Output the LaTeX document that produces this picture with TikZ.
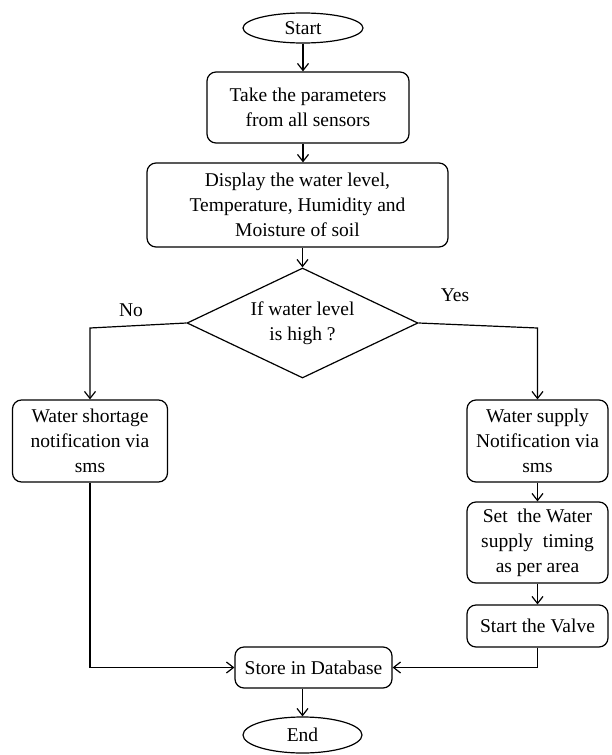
\documentclass[tikz,border=0pt]{standalone}
\usepackage{fontspec}
\setmainfont{Liberation Serif}
\newfontfamily\diagfont{Liberation Serif}
\usetikzlibrary{shapes.geometric,arrows.meta}
\begin{document}
\begin{tikzpicture}[x=1pt,y=-1pt,
  every node/.style={font=\diagfont\fontsize{19.5}{25}\selectfont},
  box/.style={draw, line width=1.2pt, rounded corners=9pt, align=center, inner sep=0pt},
  term/.style={draw, line width=1.2pt, ellipse, inner sep=0pt},
  dec/.style={draw, line width=1.2pt, diamond, aspect=2.1, align=center, inner sep=0pt},
  arr/.style={line width=1.2pt, -{Straight Barb[length=7pt,width=11pt]}},
  lbl/.style={inner sep=0pt}]
\useasboundingbox (0,0) rectangle (612,755);
\node[term, minimum width=120pt, minimum height=30pt] (start) at (303,28) {Start};
\node[box, minimum width=202pt, minimum height=71pt] (take) at (308,107.5) {Take the parameters\\from all sensors};
\node[box, minimum width=301pt, minimum height=84pt] (disp) at (297.5,205) {Display the water level,\\Temperature, Humidity and\\Moisture of soil};
\node[dec, minimum width=231pt, minimum height=110pt] (dec) at (302.5,323) {If water level\\is high ?};
\node[box, minimum width=155pt, minimum height=82pt] (left) at (90,441) {Water shortage\\notification via\\sms};
\node[box, minimum width=141pt, minimum height=82pt] (r1) at (537.5,441) {Water supply\\Notification via\\sms};
\node[box, minimum width=141pt, minimum height=81pt] (r2) at (537.5,542.5) {Set~ the Water\\supply~ timing\\as per area};
\node[box, minimum width=141pt, minimum height=42pt] (r3) at (537.5,626) {Start the Valve};
\node[box, minimum width=157pt, minimum height=41pt] (store) at (313.5,667.5) {Store in Database};
\node[term, minimum width=119pt, minimum height=36pt] (end) at (302.5,735) {End};
\node[lbl] (no) at (131,310) {No};
\node[lbl] (yes) at (455,295) {Yes};
\coordinate (nc) at (90,328);
\coordinate (yc) at (537.5,328);
\draw[arr] (start.south) -- (start.south |- take.north);
\draw[arr] (take.south -| start.south) -- (start.south |- disp.north);
\draw[arr] (disp.south -| dec.north) -- (dec.north);
\draw[arr] (dec.west) -- (nc) -- (left.north);
\draw[arr] (dec.east) -- (yc) -- (r1.north);
\draw[arr] (r1.south) -- (r2.north);
\draw[arr] (r2.south) -- (r3.north);
\draw[arr] (left.south) |- (store.west);
\draw[arr] (r3.south) |- (store.east);
\draw[arr] (store.south -| end.north) -- (end.north);
\end{tikzpicture}
\end{document}
